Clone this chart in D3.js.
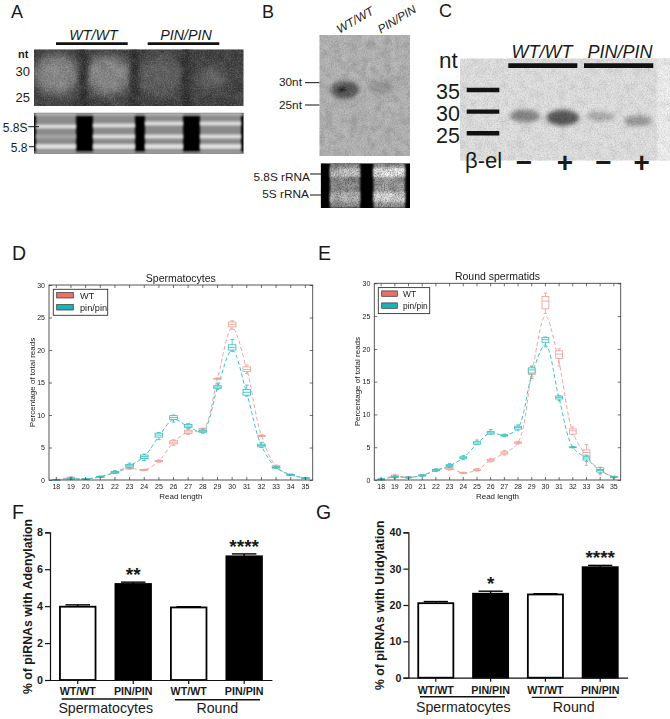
<!DOCTYPE html>
<html><head><meta charset="utf-8">
<script src="https://cdn.jsdelivr.net/npm/d3@7"></script>
<style>
html,body{margin:0;padding:0;background:#fff}
svg{display:block}
text{font-family:"Liberation Sans",Arial,sans-serif;fill:#1a1a1a}
</style></head><body>
<svg id="fig" width="670" height="719"></svg>
<script>
// ---------- data ----------
const readLengths = d3.range(18, 36);
const yTicksLine = [0,5,10,15,20,25,30];
const seriesNames = ["WT","pin/pin"];
// [low whisker, q1, median, q3, high whisker] per read length
const wtSpermatocytes = [[0,.03,.05,.07,.1],[.15,.22,.3,.42,.5],[.1,.12,.15,.18,.2],[.4,.45,.5,.55,.6],[1,1.05,1.1,1.2,1.3],[1.65,1.72,1.8,1.88,1.95],[1.45,1.5,1.55,1.6,1.65],[2.75,2.82,2.9,3,3.1],[5.35,5.55,5.8,6.05,6.2],[7,7.15,7.4,7.65,7.8],[7.3,7.5,7.7,7.9,8],[15.5,15.55,15.6,15.65,15.7],[23.2,23.55,23.9,24.3,24.5],[16.4,16.7,17,17.4,17.7],[6.65,6.72,6.8,6.88,6.95],[1.95,2,2.1,2.2,2.3],[.7,.75,.8,.85,.9],[.22,.26,.3,.34,.38]];
const pinSpermatocytes = [[0,.03,.05,.07,.1],[.05,.12,.2,.28,.4],[.1,.12,.15,.18,.2],[.4,.45,.5,.55,.6],[1,1.1,1.2,1.3,1.45],[1.85,2,2.2,2.4,2.6],[3,3.3,3.6,3.85,4],[6.2,6.6,6.9,7.2,7.3],[8.9,9.3,9.6,9.9,10],[7.9,8.1,8.3,8.55,8.7],[7.2,7.35,7.5,7.65,7.8],[13.9,14.1,14.3,14.5,14.9],[19.8,20,20.4,20.8,21.6],[12.9,13.05,13.5,13.9,14.6],[5,5.1,5.3,5.5,5.8],[1.75,1.82,1.9,2,2.1],[.7,.75,.8,.85,.9],[.22,.26,.3,.34,.38]];
const wtSpermatids = [[0,.05,.1,.14,.2],[.35,.45,.6,.75,.85],[.3,.35,.4,.45,.5],[.55,.62,.7,.78,.85],[1.35,1.42,1.5,1.6,1.7],[1.5,1.62,1.75,1.9,2],[1.02,1.06,1.1,1.15,1.2],[1.35,1.45,1.55,1.65,1.75],[2.75,2.88,3,3.15,3.3],[3.8,3.95,4.1,4.3,4.5],[5.5,5.6,5.7,5.8,5.9],[15.8,16.1,16.6,17,17.3],[25.4,26.1,27.3,28,28.5],[17.4,18.55,19.2,19.7,20],[6.9,7,7.5,7.8,8.1],[2.2,3.7,4.2,4.6,5.4],[.8,1.3,1.6,1.9,1.95],[.3,.38,.45,.52,.6]];
const pinSpermatids = [[0,.05,.1,.14,.2],[.3,.38,.45,.55,.65],[.3,.35,.4,.45,.5],[.55,.62,.7,.78,.85],[1.3,1.4,1.5,1.6,1.7],[1.95,2.08,2.2,2.35,2.5],[3.1,3.25,3.4,3.55,3.75],[5.4,5.45,5.65,5.85,6.1],[7,7,7.2,7.4,7.7],[6.6,6.7,6.8,6.9,7],[7.5,7.75,8,8.2,8.4],[15.5,16.3,16.8,17.1,17.4],[20.3,21,21.4,21.76,21.8],[12.1,12.35,12.6,12.8,12.9],[4.9,4.95,5,5.05,5.1],[2.8,3.05,3.35,3.55,3.8],[1,1.2,1.45,1.6,1.9],[.35,.4,.45,.5,.55]];
// dashed-line values (means) per read length
const wtSpermatocytesMean = [.05,.3,.15,.5,1.1,1.8,1.55,2.9,5.8,7.4,7.7,15.6,23.4,17,6.8,2.1,.8,.3];
const pinSpermatocytesMean = [.05,.2,.15,.5,1.2,2.2,3.6,6.7,9.3,8.2,7.5,14.2,20,13.3,5.3,1.9,.8,.3];
const wtSpermatidsMean = [.1,.6,.4,.7,1.5,1.75,1.1,1.55,3,4.1,5.7,16.2,25,17.8,7.3,3.7,1.5,.45];
const pinSpermatidsMean = [.1,.45,.4,.7,1.5,2.2,3.4,5.5,7.2,6.8,8,16,20.6,12.4,5,3.3,1.4,.45];

const barGroups = ["WT/WT","PIN/PIN","WT/WT ","PIN/PIN "];
const adenylation = [3.97,5.2,3.93,6.7];
const adenylationErr = [.1,.1,.04,.13];
const adenylationStars = ["","**","","****"];
const adenylationTicks = [0,2,4,6,8];
const uridylation = [20.5,23.1,22.9,30.4];
const uridylationErr = [.45,.7,.2,.5];
const uridylationStars = ["","*","","****"];
const uridylationTicks = [0,10,20,30,40];

const gelLanes = ["a","b","c","d"];
const gelAIntensity = [.6,.6,.25,.3];
const gelCIntensity = [.5,.85,.24,.36];
const gelBIntensity = [.85,.25];
const rnaBandsA = [126.5,136.5,146];

const RED="#f0a49c", TEAL="#3fc4c4", REDFILL="#ee6f64", TEALFILL="#16b6b6";

// ---------- helpers ----------
const svg = d3.select("#fig");
const defs = svg.append("defs");
function blur(id,s){defs.append("filter").attr("id",id).attr("x","-60%").attr("y","-60%").attr("width","220%").attr("height","220%")
  .append("feGaussianBlur").attr("stdDeviation",s);}
blur("b1",1);blur("b2",2);blur("b5",5);blur("b9",9);blur("soft",.4);
function noiseFilter(id,freq,seed,level){
  const nf = defs.append("filter").attr("id",id).attr("x",0).attr("y",0).attr("width","100%").attr("height","100%");
  nf.append("feTurbulence").attr("type","fractalNoise").attr("baseFrequency",freq).attr("numOctaves",2).attr("seed",seed);
  nf.append("feColorMatrix").attr("values",`0 0 0 0 ${level}  0 0 0 0 ${level}  0 0 0 0 ${level}  2.4 0 0 0 -0.95`);
}
noiseFilter("nLight",.7,4,1);noiseFilter("nDark",.7,9,0);noiseFilter("mDark",.12,3,0);noiseFilter("mLight",.12,7,1);
function text(g,s,x,y,size,o={}){
  const t=g.append("text").attr("x",x).attr("y",y).attr("font-size",size).text(s);
  if(o.anchor)t.attr("text-anchor",o.anchor);
  if(o.bold)t.attr("font-weight","bold");
  if(o.italic)t.attr("font-style","italic");
  if(o.rotate!==undefined)t.attr("transform",`rotate(${o.rotate} ${x} ${y})`);
  return t;
}
function hline(g,x1,x2,y,w,c="#111"){g.append("line").attr("x1",x1).attr("x2",x2).attr("y1",y).attr("y2",y).attr("stroke",c).attr("stroke-width",w);}
let clipN=0;
function gelFrame(x,y,w,h,bg){
  const id="gel"+(clipN++);
  defs.append("clipPath").attr("id",id).append("rect").attr("x",x).attr("y",y).attr("width",w).attr("height",h);
  const g=svg.append("g").attr("clip-path",`url(#${id})`);
  g.append("rect").attr("x",x).attr("y",y).attr("width",w).attr("height",h).attr("fill",bg);
  g.noise=(fine,mot)=>{[["nLight",fine],["nDark",fine],["mLight",mot],["mDark",mot]].forEach(([f,o])=>{
    g.append("rect").attr("x",x).attr("y",y).attr("width",w).attr("height",h).attr("filter",`url(#${f})`).attr("opacity",o);});};
  return g;
}
const grey=v=>{const c=Math.round(v);return `rgb(${c},${c},${c})`};

// ---------- panel letters ----------
[["A",11,18,18],["B",262,18,18],["C",439,17,18],["D",12,260,19.5],["E",318,260,19.5],["F",12,519,19.5],["G",316,519,19.5]]
  .forEach(d=>text(svg,d[0],d[1],d[2],d[3]));

// ---------- panel A ----------
{
  const x=d3.scalePoint().domain(gelLanes).range([57,212]);
  const y=d3.scaleLinear().domain([30,25]).range([72,99]);
  const g=gelFrame(34,49.3,209.7,56.7,"#3c3c3c");
  g.selectAll(".blob").data(gelLanes).join("ellipse")
    .attr("cx",d=>x(d)).attr("cy",(d,i)=>y(29.5-(i===3?.7:i*.1)))
    .attr("rx",(d,i)=>i===3?15:23).attr("ry",(d,i)=>i===3?11:20)
    .attr("fill",(d,i)=>grey(60+gelAIntensity[i]*125)).attr("filter","url(#b5)");
  g.selectAll(".gap").data(gelLanes.slice(1)).join("rect")
    .attr("x",d=>x(d)-x.step()/2-4).attr("y",49).attr("width",8).attr("height",58)
    .attr("fill","#2a2a2a").attr("filter","url(#b2)");
  g.noise(.18,.08);
  const bl=[[36,76],[93,135],[145,183],[200,241]];
  const b=gelFrame(34,112.7,209.7,41,"#000");
  b.selectAll(".lane").data(gelLanes).join("rect")
    .attr("x",(d,i)=>bl[i][0]).attr("y",112.7).attr("width",(d,i)=>bl[i][1]-bl[i][0]).attr("height",41)
    .attr("fill","#8a8a8a").attr("filter","url(#b1)");
  gelLanes.forEach((l,i)=>rnaBandsA.forEach((yy,j)=>{
    b.append("rect").attr("x",bl[i][0]).attr("width",bl[i][1]-bl[i][0]).attr("y",yy-(i>0&&j===0?3:2)-(i>1&&j==0?2:0)).attr("height",j===2?5:4)
      .attr("fill",j===1&&i===0?"#a5a5a5":"#dedede").attr("filter","url(#b1)");
  }));
  b.append("rect").attr("x",34).attr("y",112.7).attr("width",209.7).attr("height",3).attr("fill","#b5b5b5").attr("filter","url(#b1)");
  b.append("rect").attr("x",34).attr("y",151.5).attr("width",209.7).attr("height",2.2).attr("fill","#aaa").attr("filter","url(#b1)");
  text(svg,"WT/WT",93.5,39.5,14.3,{anchor:"middle",italic:true});
  text(svg,"PIN/PIN",186,39.5,14.3,{anchor:"middle",italic:true});
  hline(svg,56,127.7,43.7,2.8);hline(svg,147.7,219.3,43.7,2.8);
  text(svg,"nt",18,58,11,{bold:true});
  text(svg,"30",30,76,13,{anchor:"end"});
  text(svg,"25",30,101.7,13,{anchor:"end"});
  text(svg,"5.8S",27.5,131.7,12,{anchor:"end"});
  text(svg,"5.8",27.5,151.7,12,{anchor:"end"});
  hline(svg,28.3,39,126.7,1);hline(svg,29,35,146.7,1);
}

// ---------- panel B ----------
{
  const g=gelFrame(319.3,35,90.7,121,"#b4b4b4");
  g.append("ellipse").attr("cx",345).attr("cy",90).attr("rx",14).attr("ry",9).attr("fill",grey(170-gelBIntensity[0]*100)).attr("filter","url(#b2)");
  g.append("ellipse").attr("cx",342).attr("cy",89.5).attr("rx",3.5).attr("ry",2).attr("fill","#111").attr("filter","url(#b1)");
  g.append("ellipse").attr("cx",381).attr("cy",87).attr("rx",13).attr("ry",6).attr("fill",grey(175-gelBIntensity[1]*110)).attr("filter","url(#b2)");
  g.noise(.13,.1);
  const b=gelFrame(320.7,163.3,89.3,44.7,"#000");
  b.append("rect").attr("x",330).attr("y",163).attr("width",30).attr("height",45).attr("fill","#9a9a9a").attr("filter","url(#b1)");
  b.append("rect").attr("x",373.5).attr("y",163).attr("width",31.5).attr("height",45).attr("fill","#a8a8a8").attr("filter","url(#b1)");
  [[330,30,"#cfcfcf","#c4c4c4"],[373.5,31.5,"#f8f8f8","#e4e4e4"]].forEach(d=>{
    b.append("rect").attr("x",d[0]).attr("y",168).attr("width",d[1]).attr("height",9).attr("fill",d[2]).attr("filter","url(#b1)");
    b.append("rect").attr("x",d[0]).attr("y",192).attr("width",d[1]).attr("height",10).attr("fill",d[3]).attr("filter","url(#b1)");
  });
  b.append("rect").attr("x",320).attr("y",163).attr("width",91).attr("height",45).attr("filter","url(#nDark)").attr("opacity",.35);
  b.append("rect").attr("x",320).attr("y",163).attr("width",91).attr("height",45).attr("filter","url(#mDark)").attr("opacity",.2);
  text(svg,"WT/WT",357,23.7,12,{anchor:"middle",italic:true,rotate:-30});
  text(svg,"PIN/PIN",398.9,22.7,11.8,{anchor:"middle",italic:true,rotate:-31});
  text(svg,"30nt",279,86,11.8);text(svg,"25nt",279,108.5,11.8);
  hline(svg,305,319.3,82.7,1);hline(svg,305,319.3,105,1);
  text(svg,"5.8S rRNA",253.5,181,11.8);text(svg,"5S rRNA",262.3,197.5,11.8);
  hline(svg,310,321,174,1);hline(svg,310,321,195,1);
}

// ---------- panel C ----------
{
  const x=d3.scalePoint().domain(gelLanes).range([525,638]);
  const y=d3.scaleLinear().domain([35,25]).range([90,133.3]);
  const g=gelFrame(460,58.3,210,102.4,"#e2e2e2");
  g.append("rect").attr("x",657).attr("y",58).attr("width",14).attr("height",103).attr("fill","#f2f2f2").attr("filter","url(#b1)");
  g.selectAll(".band").data(gelLanes).join("ellipse")
    .attr("cx",d=>x(d)).attr("cy",(d,i)=>y([29,28.6,28.9,27.9][i]))
    .attr("rx",(d,i)=>[15,16,14,14][i]).attr("ry",(d,i)=>[6.5,8,4.5,5.5][i])
    .attr("fill",(d,i)=>grey(205-gelCIntensity[i]*145)).attr("filter","url(#b2)");
  g.noise(.12,.05);
  hline(svg,508.3,577.3,65.6,4.6);hline(svg,584,653.3,65.6,4.6);
  text(svg,"WT/WT",542,58,18,{anchor:"middle",italic:true});
  text(svg,"PIN/PIN",620,58,18,{anchor:"middle",italic:true});
  text(svg,"nt",439,68.3,22.5);
  [[35,"35",99],[30,"30",120.7],[25,"25",142.7]].forEach(d=>{
    text(svg,d[1],460,d[2],21.5,{anchor:"end"});
    hline(svg,466.7,499.3,y(d[0]),4.4);
  });
  text(svg,"β-el",465,168.3,22);
  const signs=["−","+","−","+"];
  signs.forEach((s,i)=>text(svg,s,[524,565,603.5,641.7][i],171.5,28,{anchor:"middle",bold:true}));
}

// ---------- panels D / E ----------
function linePanel(L,R,T,B,title,wt,pin,wtM,pinM,legend,boxW){
  const root=svg.append("g").attr("filter","url(#soft)");
  const x=d3.scaleBand().domain(readLengths).range([L,R]);
  const y=d3.scaleLinear().domain([0,30]).range([B,T]);
  const cx=d=>x(d)+x.bandwidth()/2;
  const line=d3.line().curve(d3.curveCatmullRom.alpha(.5)).x((d,i)=>cx(readLengths[i])).y(d=>y(d));
  root.append("path").attr("d",line(wtM)).attr("fill","none").attr("stroke",RED).attr("stroke-width",1).attr("stroke-dasharray","4 2.5");
  root.append("path").attr("d",line(pinM)).attr("fill","none").attr("stroke",TEAL).attr("stroke-width",1).attr("stroke-dasharray","4 2.5");
  [[wt,RED],[pin,TEAL]].forEach(([s,c])=>{
    const g=root.append("g").attr("stroke",c).attr("fill","none").attr("stroke-width",.9);
    const it=g.selectAll("g").data(s).join("g");
    it.append("line").attr("x1",(d,i)=>cx(readLengths[i])).attr("x2",(d,i)=>cx(readLengths[i])).attr("y1",d=>y(d[0])).attr("y2",d=>y(d[4]));
    it.append("rect").attr("x",(d,i)=>cx(readLengths[i])-boxW/2).attr("width",boxW)
      .attr("y",d=>y(d[3])).attr("height",d=>Math.max(.8,y(d[1])-y(d[3]))).attr("fill","#fff");
    it.append("line").attr("x1",(d,i)=>cx(readLengths[i])-boxW/2).attr("x2",(d,i)=>cx(readLengths[i])+boxW/2).attr("y1",d=>y(d[2])).attr("y2",d=>y(d[2]));
    it.append("line").attr("x1",(d,i)=>cx(readLengths[i])-boxW/4).attr("x2",(d,i)=>cx(readLengths[i])+boxW/4).attr("y1",d=>y(d[4])).attr("y2",d=>y(d[4]));
    it.append("line").attr("x1",(d,i)=>cx(readLengths[i])-boxW/4).attr("x2",(d,i)=>cx(readLengths[i])+boxW/4).attr("y1",d=>y(d[0])).attr("y2",d=>y(d[0]));
  });
  root.append("rect").attr("x",L).attr("y",T).attr("width",R-L).attr("height",B-T).attr("fill","none").attr("stroke","#444").attr("stroke-width",.9);
  const sty=a=>{a.select(".domain").remove();a.selectAll("line").attr("stroke","#333").attr("stroke-width",.7);
    a.selectAll("text").attr("font-size",7).style("fill","#222");};
  root.append("g").attr("transform",`translate(0,${B})`).call(d3.axisBottom(x).tickSize(-3).tickPadding(4)).call(sty);
  root.append("g").attr("transform",`translate(0,${T})`).call(d3.axisTop(x).tickSize(-3).tickFormat("")).call(sty);
  root.append("g").attr("transform",`translate(${L},0)`).call(d3.axisLeft(y).tickValues(yTicksLine).tickSize(-3).tickPadding(4)).call(sty);
  root.append("g").attr("transform",`translate(${R},0)`).call(d3.axisRight(y).tickValues(yTicksLine).tickSize(-3).tickFormat("")).call(sty);
  text(root,title,(L+R)/2,T-3,10.5,{anchor:"middle"});
  text(root,"Read length",(L+R)/2,B+18.5,8,{anchor:"middle"});
  text(root,"Percentage of total reads",L-14,(T+B)/2,8,{anchor:"middle",rotate:-90});
  const lg=root.append("g");
  lg.append("rect").attr("x",legend.x).attr("y",T+4.3).attr("width",legend.w).attr("height",26).attr("fill","#fff").attr("stroke","#333").attr("stroke-width",.9);
  seriesNames.forEach((n,i)=>{
    lg.append("rect").attr("x",legend.x+3.4).attr("y",T+7.6+i*12).attr("width",legend.sw).attr("height",5.4)
      .attr("fill",i?TEALFILL:REDFILL).attr("stroke","#333").attr("stroke-width",.7);
    text(lg,n,legend.tx,T+13.6+i*12,legend.fs);
  });
}
linePanel(49,312.7,285,480,"Spermatocytes",wtSpermatocytes,pinSpermatocytes,wtSpermatocytesMean,pinSpermatocytesMean,{x:53.3,w:54.4,sw:16.6,tx:80,fs:9.2},7.6);
linePanel(374.3,620.7,283.3,480,"Round spermatids",wtSpermatids,pinSpermatids,wtSpermatidsMean,pinSpermatidsMean,{x:378.3,w:51.4,sw:15.6,tx:403,fs:8.4},6.8);

// ---------- panels F / G ----------
function barPanel(L,R,T,B,maxV,vals,errs,stars,ticks,ylabel,ylabX,labelY,underY,underSp,underRd,groupY,cSp,cRd,starOff){
  const x=d3.scaleBand().domain(barGroups).range([L,R]).paddingInner(.33).paddingOuter(.165);
  const y=d3.scaleLinear().domain([0,maxV]).range([B,T]);
  const g=svg.append("g");
  g.selectAll(".err").data(vals).join("line")
    .attr("x1",(d,i)=>x(barGroups[i])+x.bandwidth()/2).attr("x2",(d,i)=>x(barGroups[i])+x.bandwidth()/2)
    .attr("y1",d=>y(d)).attr("y2",(d,i)=>y(d+errs[i])).attr("stroke","#000").attr("stroke-width",1.4);
  g.selectAll(".cap").data(vals).join("line")
    .attr("x1",(d,i)=>x(barGroups[i])+x.bandwidth()*.17).attr("x2",(d,i)=>x(barGroups[i])+x.bandwidth()*.83)
    .attr("y1",(d,i)=>y(d+errs[i])).attr("y2",(d,i)=>y(d+errs[i])).attr("stroke","#000").attr("stroke-width",1.4);
  g.selectAll(".bar").data(vals).join("rect")
    .attr("x",(d,i)=>x(barGroups[i])+.8).attr("width",x.bandwidth()-1.6)
    .attr("y",d=>y(d)).attr("height",d=>B-y(d))
    .attr("fill",(d,i)=>i%2?"#000":"#fff").attr("stroke","#000").attr("stroke-width",1.8);
  const ax=a=>{a.selectAll("path,line").attr("stroke","#111").attr("stroke-width",1.2);
    a.selectAll("text").attr("font-size",10.7).attr("font-weight","bold").style("fill","#1a1a1a");};
  g.append("g").attr("transform",`translate(${L},0)`).call(d3.axisLeft(y).tickValues(ticks).tickSize(5).tickSizeOuter(5).tickPadding(2)).call(ax);
  const bx=g.append("g").attr("transform",`translate(0,${B})`).call(d3.axisBottom(x).tickSize(4).tickSizeOuter(0).tickPadding(99)).call(ax);
  bx.selectAll("text").remove();
  barGroups.forEach(n=>text(g,n.trim(),x(n)+x.bandwidth()/2,labelY,10.7,{anchor:"middle",bold:true}));
  hline(g,underSp[0],underSp[1],underY,1.4);
  hline(g,underRd[0],underRd[1],underY+.7,1.4);
  text(g,"Spermatocytes",cSp,groupY,14.2,{anchor:"middle"});
  text(g,"Round",cRd,groupY,14.2,{anchor:"middle"});
  text(g,ylabel,ylabX,(T+B)/2+.3,12.3,{anchor:"middle",bold:true,rotate:-90});
  stars.forEach((s,i)=>{ if(s) text(g,s,x(barGroups[i])+x.bandwidth()/2,y(vals[i]+errs[i])-starOff,19,{anchor:"middle",bold:true}); });
}
barPanel(50,271.9,532.3,680,8,adenylation,adenylationErr,adenylationStars,adenylationTicks,"% of piRNAs with Adenylation",32,695,699,[61.7,148.3],[175,260],713,105.7,217.3,1);
barPanel(408.4,627.6,532.3,677.7,40,uridylation,uridylationErr,uridylationStars,uridylationTicks,"% of piRNAs with Uridylation",384,693.5,696.7,[420,505],[531.7,616.7],711.7,463.3,573.7,1);
</script>
</body></html>
